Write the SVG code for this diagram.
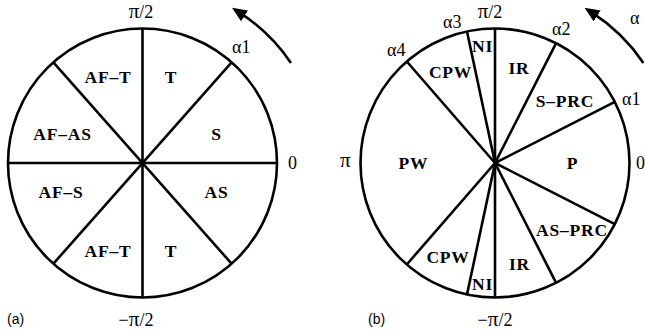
<svg xmlns="http://www.w3.org/2000/svg" width="645" height="334" viewBox="0 0 645 334">
<style>
.ln{stroke:#000;stroke-width:2.6;fill:none}
.b{font-family:"Liberation Serif",serif;font-weight:bold;font-size:17.5px;letter-spacing:0.8px;text-anchor:middle;fill:#000}
.r{font-family:"Liberation Serif",serif;font-size:18px;fill:#000}
.m{text-anchor:middle}
.p{font-size:21px}
.s{font-family:"Liberation Sans",sans-serif;font-size:14px;fill:#000}
</style>
<defs>
<marker id="ah" markerUnits="userSpaceOnUse" viewBox="0 0 15 13" markerWidth="15" markerHeight="13" refX="5.5" refY="6.5" orient="auto">
<path d="M0,0 L15,6.5 L0,13 z" fill="#000"/>
</marker>
</defs>
<rect width="645" height="334" fill="#fff"/>
<g id="diagram-a">
<g id="a-circle"><circle class="ln" cx="142.5" cy="163" r="134.5"/></g>
<g id="a-connectors">
<line class="ln" x1="142.5" y1="28.5" x2="142.5" y2="297.5"/>
<line class="ln" x1="8" y1="163" x2="277" y2="163"/>
<line class="ln" x1="53.4" y1="62.3" x2="231.6" y2="263.7"/>
<line class="ln" x1="231.6" y1="62.3" x2="53.4" y2="263.7"/>
<path class="ln" d="M290.9,62.9 A179,179 0 0 0 240,12.9" marker-end="url(#ah)"/>
</g>
<g id="a-AFT1"><text class="b" x="108" y="83">AF–T</text></g>
<g id="a-T1"><text class="b" x="171" y="83">T</text></g>
<g id="a-AFAS"><text class="b" x="62.5" y="140">AF–AS</text></g>
<g id="a-S"><text class="b" x="216.5" y="140">S</text></g>
<g id="a-AFS"><text class="b" x="61" y="198">AF–S</text></g>
<g id="a-AS"><text class="b" x="216.5" y="198">AS</text></g>
<g id="a-AFT2"><text class="b" x="108" y="257">AF–T</text></g>
<g id="a-T2"><text class="b" x="171" y="257">T</text></g>
<text class="r m" x="141" y="18"><tspan class="p">π</tspan>/2</text>
<text class="r m" x="136" y="326">−<tspan class="p">π</tspan>/2</text>
<text class="r" x="288" y="169">0</text>
<text class="r" x="232" y="53">α1</text>
<text class="s" x="7" y="324">(a)</text>
</g>
<g id="diagram-b">
<g id="b-circle"><circle class="ln" cx="495" cy="163" r="134.5"/></g>
<g id="b-connectors">
<line class="ln" x1="495" y1="28.5" x2="495" y2="297.5"/>
<line class="ln" x1="495" y1="163" x2="614.8" y2="101.9"/>
<line class="ln" x1="495" y1="163" x2="614.8" y2="224.1"/>
<line class="ln" x1="495" y1="163" x2="556.1" y2="43.2"/>
<line class="ln" x1="495" y1="163" x2="556.1" y2="282.8"/>
<line class="ln" x1="495" y1="163" x2="467" y2="31.4"/>
<line class="ln" x1="495" y1="163" x2="467" y2="294.6"/>
<line class="ln" x1="495" y1="163" x2="406.8" y2="61.5"/>
<line class="ln" x1="495" y1="163" x2="406.8" y2="264.5"/>
<path class="ln" d="M643.4,62.9 A179,179 0 0 0 592.5,12.9" marker-end="url(#ah)"/>
</g>
<g id="b-CPW1"><text class="b" x="450.5" y="78">CPW</text></g>
<g id="b-NI1"><text class="b" x="482.5" y="52">NI</text></g>
<g id="b-IR1"><text class="b" x="519" y="74">IR</text></g>
<g id="b-SPRC"><text class="b" x="565" y="107">S–PRC</text></g>
<g id="b-P"><text class="b" x="572.5" y="169">P</text></g>
<g id="b-PW"><text class="b" x="413.5" y="169">PW</text></g>
<g id="b-ASPRC"><text class="b" x="572" y="236">AS–PRC</text></g>
<g id="b-IR2"><text class="b" x="519.5" y="270">IR</text></g>
<g id="b-NI2"><text class="b" x="482.5" y="290">NI</text></g>
<g id="b-CPW2"><text class="b" x="448" y="263">CPW</text></g>
<text class="r m" x="490" y="18"><tspan class="p">π</tspan>/2</text>
<text class="r m" x="495" y="326">−<tspan class="p">π</tspan>/2</text>
<text class="r" x="443" y="28">α3</text>
<text class="r" x="552" y="35">α2</text>
<text class="r" x="387" y="56">α4</text>
<text class="r" x="622" y="105">α1</text>
<text class="r" x="636" y="169">0</text>
<text class="r p" x="340" y="167">π</text>
<text class="r" x="630" y="24">α</text>
<text class="s" x="368" y="324">(b)</text>
</g>
</svg>
